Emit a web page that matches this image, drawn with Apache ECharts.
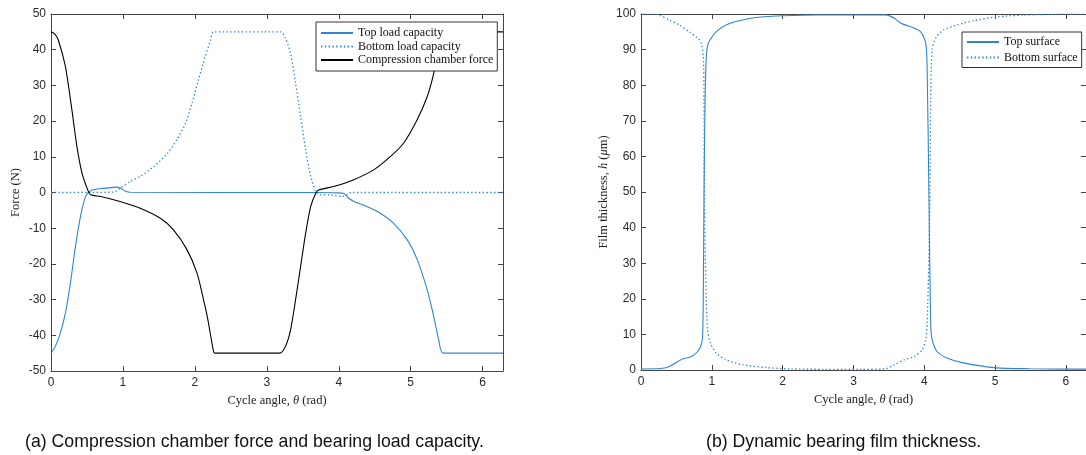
<!DOCTYPE html>
<html>
<head>
<meta charset="utf-8">
<title>Bearing load capacity and film thickness</title>
<script src="https://cdn.jsdelivr.net/npm/echarts@6/dist/echarts.min.js"></script>
<style>
  html, body { margin: 0; padding: 0; background: #fff; }
  #chart { width: 1086px; height: 455px; }
</style>
</head>
<body>
<div id="chart"></div>
<script>
// ---- (a) forces over one cycle, theta in rad, force in N ----
const TWO_PI = 2 * Math.PI;

const topLoadTheta = [0, 0.06, 0.13, 0.2, 0.27, 0.34, 0.41, 0.48, 0.52, 0.57, 0.69, 0.8, 0.9, 0.97, 1.03, 1.1,
  3.7, 3.98, 4.07, 4.14, 4.21, 4.39, 4.58, 4.76, 4.95, 5.09, 5.23, 5.32, 5.39, 5.45, TWO_PI];
const topLoadForce = [-45, -43.1, -39.4, -33.8, -25.4, -15.1, -6.7, -1.1, 0, 0.7, 1.1, 1.3, 1.5, 1.2, 0.4, 0.05,
  0, -0.1, -0.3, -1.6, -2.5, -3.9, -5.8, -8.6, -13.2, -18.8, -27.3, -34.7, -41.3, -45, -45];

const bottomLoadTheta = [0, 0.87, 0.96, 1.1, 1.24, 1.43, 1.62, 1.75, 1.87, 1.96, 2.05, 2.145, 2.22, 2.26,
  3.19, 3.26, 3.33, 3.4, 3.47, 3.54, 3.61, 3.68, 3.74, 3.88, 4.05, 4.12, 4.17, TWO_PI];
const bottomLoadForce = [0, 0.1, 1.2, 3.1, 4.5, 7.3, 11, 14.8, 19.4, 25, 31.6, 38.1, 42.8, 45,
  45, 43.2, 39, 30.6, 21.3, 12, 4.5, 0.3, -0.6, -0.7, -1.1, -0.6, 0, 0];

const chamberTheta = [0, 0.05, 0.1, 0.2, 0.29, 0.36, 0.43, 0.51, 0.55, 0.69, 0.96, 1.24, 1.52, 1.7, 1.89, 2.03,
  2.12, 2.17, 2.21, 2.25, 2.275, 3.18, 3.26, 3.33, 3.4, 3.47, 3.54, 3.61, 3.68, 3.72, 3.93, 4.21, 4.49, 4.72,
  4.9, 5.09, 5.23, 5.32, 5.38, 5.45, TWO_PI];
const chamberForce = [45, 44.4, 42.8, 35.3, 23.2, 12.9, 5.5, 0.75, -0.65, -1.1, -2.5, -4.4, -7.2, -10.4, -16, -22.6,
  -30, -34.5, -39, -43.5, -45, -45, -43.1, -38.5, -30, -20.7, -11.4, -3.9, -0.2, 0.7, 1.7, 3.6, 6.4, 10.1,
  13.8, 20.4, 26.9, 33.4, 40, 45, 45];

// ---- (b) film thickness, h in micrometres ----
const topSurfTheta = [0, 0.27, 0.4, 0.52, 0.59, 0.71, 0.8, 0.85, 0.87, 0.88, 0.89, 0.905, 0.925, 0.95, 0.98, 1.06,
  1.2, 1.43, 1.66, 2.01, 2.5, 3.0, 3.45, 3.52, 3.58, 3.67, 3.81, 3.95, 4.02, 4.04, 4.066, 4.09, 4.11, 4.18, 4.32,
  4.55, 5.02, 5.49, 6.0, TWO_PI];
const topSurfH = [0.3, 0.4, 1.0, 2.4, 3.1, 3.8, 5.2, 7.1, 9.4, 22, 50, 76, 89, 91.8, 92.9, 95.0,
  96.9, 98.3, 99.1, 99.5, 99.7, 99.7, 99.7, 99.4, 98.8, 97.4, 96.4, 95.0, 91.8, 85.2, 47.8, 13.2, 8.5, 5.2, 3.4,
  2.0, 0.6, 0.35, 0.25, 0.25];

const bottomSurfTheta = [0, 0.2, 0.27, 0.4, 0.54, 0.68, 0.8, 0.85, 0.88, 0.89, 0.895, 0.918, 0.94, 0.98, 1.06,
  1.2, 1.43, 1.76, 2.13, 2.6, 3.1, 3.44, 3.58, 3.72, 3.86, 3.97, 4.02, 4.04, 4.066, 4.08, 4.09, 4.11, 4.16,
  4.27, 4.46, 4.69, 5.02, 5.4, 5.8, TWO_PI];
const bottomSurfH = [100, 99.9, 99.6, 98.3, 96.9, 95, 93.2, 91.8, 88, 75.9, 47.7, 22.5, 11.3, 7.6, 4.8,
  2.9, 1.5, 0.7, 0.3, 0.2, 0.2, 0.3, 1.5, 2.9, 3.8, 5.7, 8.5, 13.2, 31.9, 50.6, 75.9, 89.9, 93.2,
  95.5, 96.9, 98.1, 99.2, 99.7, 99.9, 100];

// ---- axis ticks ----
const thetaTicks = [0, 1, 2, 3, 4, 5, 6];
const forceRange = [-50, 50];
const filmRange = [0, 100];

const BLUE = '#2e86cf';
const AXIS = '#454545';
const LABEL = '#2b2b2b';
const SERIF = '"Liberation Serif", "DejaVu Serif", serif';
const SANS = '"Liberation Sans", Arial, sans-serif';

const zip = (xs, ys) => xs.map((x, i) => [x, ys[i]]);

function boxAxis(gridIndex, pos, extra) {
  const base = {
    type: 'value',
    gridIndex,
    position: pos,
    axisLine: { show: true, onZero: false, lineStyle: { color: AXIS, width: 1 } },
    axisTick: { show: true, inside: true, length: 5, lineStyle: { color: AXIS, width: 1 } },
    splitLine: { show: false },
    axisLabel: { show: false }
  };
  return Object.assign(base, extra || {});
}

const nameStyle = {
  fontFamily: SERIF, fontSize: 12.5, color: '#222',
  rich: { i: { fontFamily: SERIF, fontStyle: 'italic', fontSize: 12.5, color: '#222' } }
};

function thetaAxis(gridIndex, pos, labelled) {
  const ax = boxAxis(gridIndex, pos, { min: 0, max: TWO_PI, interval: 1 });
  if (labelled) {
    ax.axisLabel = {
      show: true, margin: 6, color: LABEL, fontFamily: SANS, fontSize: 12,
      showMaxLabel: false,
      formatter: v => (thetaTicks.indexOf(Math.round(v * 1000) / 1000) >= 0 ? String(v) : '')
    };
    ax.name = 'Cycle angle, {i|θ} (rad)';
    ax.nameLocation = 'middle';
    ax.nameGap = 22;
    ax.nameTextStyle = nameStyle;
  }
  return ax;
}

function valueAxis(gridIndex, pos, range, interval, labelled, name, gap) {
  const ax = boxAxis(gridIndex, pos, { min: range[0], max: range[1], interval });
  if (labelled) {
    ax.axisLabel = { show: true, margin: 5, color: LABEL, fontFamily: SANS, fontSize: 12 };
    ax.name = name;
    ax.nameLocation = 'middle';
    ax.nameGap = gap;
    ax.nameRotate = 90;
    ax.nameTextStyle = nameStyle;
  }
  return ax;
}

function curve(name, xAxisIndex, yAxisIndex, data, color, dotted) {
  return {
    name, type: 'line', xAxisIndex, yAxisIndex, data,
    symbol: 'none', smooth: 0.25, clip: true,
    lineStyle: { color, width: dotted ? 1.3 : 1.1, type: dotted ? [1.4, 2.4] : 'solid' },
    itemStyle: { color },
    emphasis: { disabled: true },
    z: 3
  };
}

const legendBase = {
  orient: 'vertical',
  selectedMode: false,
  backgroundColor: '#fff',
  borderColor: '#333',
  borderWidth: 1,
  borderRadius: 0,
  itemWidth: 32,
  itemHeight: 10,
  itemStyle: { opacity: 0 },
  textStyle: { fontFamily: SERIF, fontSize: 12, lineHeight: 12, color: '#111' },
  z: 10
};

const chart = echarts.init(document.getElementById('chart'), null, { renderer: 'canvas' });

chart.setOption({
  animation: false,
  backgroundColor: '#fff',
  grid: [
    { left: 51, top: 14, width: 452, height: 357 },
    { left: 641, top: 14, width: 449, height: 356 }
  ],
  xAxis: [
    thetaAxis(0, 'bottom', true),
    thetaAxis(0, 'top', false),
    thetaAxis(1, 'bottom', true),
    thetaAxis(1, 'top', false)
  ],
  yAxis: [
    valueAxis(0, 'left', forceRange, 10, true, 'Force (N)', 29),
    valueAxis(0, 'right', forceRange, 10, false),
    valueAxis(1, 'left', filmRange, 10, true, 'Film thickness, {i|h} ({i|μ}m)', 31),
    valueAxis(1, 'right', filmRange, 10, false)
  ],
  legend: [
    Object.assign({}, legendBase, {
      left: 316, top: 22, padding: [5, 4, 5, 4], itemGap: 1.5,
      data: ['Top load capacity', 'Bottom load capacity', 'Compression chamber force']
    }),
    Object.assign({}, legendBase, {
      left: 962, top: 32, padding: [4, 4, 4, 4], itemGap: 3.5,
      data: ['Top surface', 'Bottom surface']
    })
  ],
  series: [
    curve('Top load capacity', 0, 0, zip(topLoadTheta, topLoadForce), BLUE, false),
    curve('Bottom load capacity', 0, 0, zip(bottomLoadTheta, bottomLoadForce), BLUE, true),
    curve('Compression chamber force', 0, 0, zip(chamberTheta, chamberForce), '#000', false),
    curve('Top surface', 2, 2, zip(topSurfTheta, topSurfH), BLUE, false),
    curve('Bottom surface', 2, 2, zip(bottomSurfTheta, bottomSurfH), BLUE, true)
  ],
  graphic: [
    {
      type: 'text', left: 25, top: 433,
      style: { text: '(a) Compression chamber force and bearing load capacity.', font: '17.7px ' + SANS, fill: '#111' }
    },
    {
      type: 'text', left: 706, top: 433,
      style: { text: '(b) Dynamic bearing film thickness.', font: '17.7px ' + SANS, fill: '#111' }
    }
  ]
});
</script>
</body>
</html>
